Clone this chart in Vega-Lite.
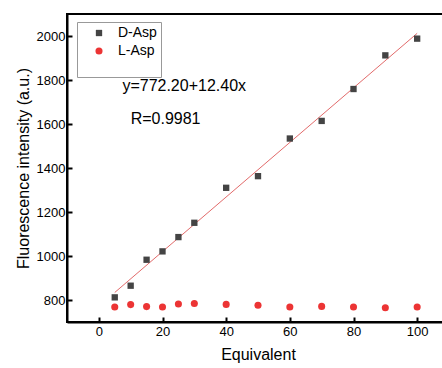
{
  "$schema": "https://vega.github.io/schema/vega-lite/v6.json",
  "width": 382,
  "height": 308,
  "autosize": {"type": "none"},
  "padding": {"left": 67, "top": 14, "right": 0, "bottom": 46},
  "background": "white",
  "config": {
    "font": "Liberation Sans",
    "view": {"stroke": "black", "strokeWidth": 2},
    "axis": {
      "grid": false,
      "domainColor": "black",
      "domainWidth": 2,
      "tickColor": "black",
      "tickWidth": 2,
      "tickSize": -5,
      "labelFont": "Liberation Sans",
      "labelFontSize": 13,
      "labelColor": "black",
      "titleFont": "Liberation Sans",
      "titleFontSize": 16,
      "titleFontWeight": "normal",
      "titleColor": "black"
    }
  },
  "layer": [
    {
      "data": {"values": [{"x": 5, "y": 834.2}, {"x": 100, "y": 2012.2}]},
      "mark": {"type": "line", "color": "#e26a6a", "strokeWidth": 1},
      "encoding": {
        "x": {"field": "x", "type": "quantitative"},
        "y": {"field": "y", "type": "quantitative"}
      }
    },
    {
      "data": {"values": [
        {"x": 5, "y": 812, "series": "D-Asp"},
        {"x": 10, "y": 865, "series": "D-Asp"},
        {"x": 15, "y": 983, "series": "D-Asp"},
        {"x": 20, "y": 1021, "series": "D-Asp"},
        {"x": 25, "y": 1086, "series": "D-Asp"},
        {"x": 30, "y": 1151, "series": "D-Asp"},
        {"x": 40, "y": 1310, "series": "D-Asp"},
        {"x": 50, "y": 1363, "series": "D-Asp"},
        {"x": 60, "y": 1534, "series": "D-Asp"},
        {"x": 70, "y": 1614, "series": "D-Asp"},
        {"x": 80, "y": 1759, "series": "D-Asp"},
        {"x": 90, "y": 1912, "series": "D-Asp"},
        {"x": 100, "y": 1988, "series": "D-Asp"},
        {"x": 5, "y": 768, "series": "L-Asp"},
        {"x": 10, "y": 779, "series": "L-Asp"},
        {"x": 15, "y": 770, "series": "L-Asp"},
        {"x": 20, "y": 768, "series": "L-Asp"},
        {"x": 25, "y": 782, "series": "L-Asp"},
        {"x": 30, "y": 784, "series": "L-Asp"},
        {"x": 40, "y": 780, "series": "L-Asp"},
        {"x": 50, "y": 776, "series": "L-Asp"},
        {"x": 60, "y": 768, "series": "L-Asp"},
        {"x": 70, "y": 771, "series": "L-Asp"},
        {"x": 80, "y": 768, "series": "L-Asp"},
        {"x": 90, "y": 765, "series": "L-Asp"},
        {"x": 100, "y": 768, "series": "L-Asp"}
      ]},
      "mark": {"type": "point", "filled": true, "opacity": 1},
      "encoding": {
        "x": {
          "field": "x", "type": "quantitative", "title": "Equivalent",
          "scale": {"domain": [-10, 110], "nice": false, "zero": false},
          "axis": {
            "values": [0, 10, 20, 30, 40, 50, 60, 70, 80, 90, 100, 110],
            "labelExpr": "datum.value % 20 == 0 ? datum.label : ''",
            "labelPadding": 8,
            "titlePadding": 8
          }
        },
        "y": {
          "field": "y", "type": "quantitative", "title": "Fluorescence intensity (a.u.)",
          "scale": {"domain": [700, 2100], "nice": false, "zero": false},
          "axis": {
            "values": [800, 900, 1000, 1100, 1200, 1300, 1400, 1500, 1600, 1700, 1800, 1900, 2000],
            "labelExpr": "datum.value % 200 == 0 ? datum.label : ''",
            "format": "d",
            "labelPadding": 7,
            "titlePadding": 5
          }
        },
        "color": {
          "field": "series", "type": "nominal",
          "scale": {"domain": ["D-Asp", "L-Asp"], "range": ["#444444", "#ec3434"]},
          "legend": {
            "orient": "none", "legendX": 10, "legendY": 8,
            "title": " ", "titleOrient": "bottom", "titleFontSize": 12, "titlePadding": 4,
            "strokeColor": "#999999", "padding": 4, "fillColor": "white",
            "labelFontSize": 14, "labelColor": "black", "labelFont": "Liberation Sans",
            "symbolOffset": 11, "labelOffset": 12, "rowPadding": 4,
            "labelLimit": 200
          }
        },
        "shape": {
          "field": "series", "type": "nominal",
          "scale": {"domain": ["D-Asp", "L-Asp"], "range": ["square", "circle"]}
        },
        "size": {
          "field": "series", "type": "nominal",
          "scale": {"domain": ["D-Asp", "L-Asp"], "range": [40, 50]}
        }
      }
    },
    {
      "data": {"values": [
        {"x": 7.4, "y": 1773, "label": "y=772.20+12.40x"},
        {"x": 10, "y": 1623, "label": "R=0.9981"}
      ]},
      "mark": {"type": "text", "align": "left", "baseline": "middle", "fontSize": 16, "font": "Liberation Sans", "color": "black"},
      "encoding": {
        "x": {"field": "x", "type": "quantitative"},
        "y": {"field": "y", "type": "quantitative"},
        "text": {"field": "label"}
      }
    }
  ]
}
